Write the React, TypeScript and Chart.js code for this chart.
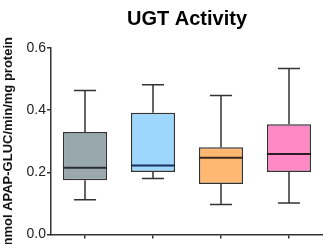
import React, { useEffect, useRef } from "react";
import { Chart, registerables } from "chart.js";

Chart.register(...registerables);

const categories = ["Group 1", "Group 2", "Group 3", "Group 4"];
const mins = [0.112, 0.18, 0.097, 0.102];
const q1s = [0.175, 0.201, 0.163, 0.201];
const medians = [0.215, 0.222, 0.247, 0.259];
const q3s = [0.33, 0.392, 0.281, 0.355];
const maxs = [0.463, 0.482, 0.447, 0.534];
const yTicks = [0, 0.2, 0.4, 0.6];

const fillColors = ["#98a8ad", "#9dd7fd", "#ffb872", "#ff89c4"];
const medianColors = ["#2a2f33", "#16305a", "#3a2a1a", "#2a1a22"];

const boxPlugin = {
  id: "boxWhiskers",
  beforeDatasetsDraw(chart: any) {
    const ctx = chart.ctx;
    const y = chart.scales.y;
    const meta = chart.getDatasetMeta(0);
    ctx.save();
    ctx.strokeStyle = "#333";
    ctx.lineWidth = 1.5;
    meta.data.forEach((el: any, i: number) => {
      const x = el.x;
      const cap = el.width * 0.5;
      ctx.beginPath();
      ctx.moveTo(x, y.getPixelForValue(q3s[i]));
      ctx.lineTo(x, y.getPixelForValue(maxs[i]));
      ctx.moveTo(x, y.getPixelForValue(q1s[i]));
      ctx.lineTo(x, y.getPixelForValue(mins[i]));
      ctx.moveTo(x - cap / 2, y.getPixelForValue(maxs[i]));
      ctx.lineTo(x + cap / 2, y.getPixelForValue(maxs[i]));
      ctx.moveTo(x - cap / 2, y.getPixelForValue(mins[i]));
      ctx.lineTo(x + cap / 2, y.getPixelForValue(mins[i]));
      ctx.stroke();
    });
    ctx.restore();
  },
  afterDatasetsDraw(chart: any) {
    const ctx = chart.ctx;
    const y = chart.scales.y;
    const meta = chart.getDatasetMeta(0);
    ctx.save();
    ctx.lineWidth = 2;
    meta.data.forEach((el: any, i: number) => {
      const half = el.width / 2;
      const py = y.getPixelForValue(medians[i]);
      ctx.strokeStyle = medianColors[i];
      ctx.beginPath();
      ctx.moveTo(el.x - half, py);
      ctx.lineTo(el.x + half, py);
      ctx.stroke();
    });
    ctx.restore();
  },
};

export default function App() {
  const ref = useRef<HTMLCanvasElement | null>(null);
  useEffect(() => {
    document.body.style.margin = "0";
    const chart = new Chart(ref.current as HTMLCanvasElement, {
      type: "bar",
      data: {
        labels: categories,
        datasets: [
          {
            data: q1s.map((q, i) => [q, q3s[i]]) as any,
            backgroundColor: fillColors,
            borderColor: "#333",
            borderWidth: 1.5,
            borderSkipped: false,
            categoryPercentage: 1,
            barPercentage: 0.65,
          },
        ],
      },
      plugins: [boxPlugin],
      options: {
        responsive: false,
        animation: false,
        devicePixelRatio: 1,
        layout: { padding: { left: 0, right: 0, top: 0, bottom: 5 } },
        plugins: {
          legend: { display: false },
          tooltip: { enabled: false },
          title: {
            display: true,
            text: "UGT Activity",
            fullSize: false,
            color: "#000",
            font: { family: "Liberation Sans, Arial, sans-serif", size: 20, weight: "bold" },
            padding: { top: 7, bottom: 17 },
          },
        },
        scales: {
          x: {
            type: "category",
            offset: true,
            ticks: { display: false },
            grid: {
              display: true,
              offset: false,
              drawOnChartArea: false,
              drawTicks: true,
              tickLength: 4,
              color: "#333",
              lineWidth: 1.5,
            },
            border: { display: true, color: "#333", width: 1.5 },
          },
          y: {
            min: 0,
            max: 0.6,
            afterFit: (scale: any) => {
              scale.width = 51;
            },
            afterBuildTicks: (scale: any) => {
              scale.ticks = yTicks.map((v) => ({ value: v }));
            },
            ticks: {
              padding: 1,
              color: "#222",
              font: { family: "Liberation Sans, Arial, sans-serif", size: 14 },
              callback: (v: any) => Number(v).toFixed(1),
            },
            grid: {
              display: true,
              drawOnChartArea: false,
              drawTicks: true,
              tickLength: 4,
              color: "#333",
              lineWidth: 1.5,
            },
            border: { display: true, color: "#333", width: 1.5 },
            title: {
              display: true,
              text: "nmol APAP-GLUC/min/mg protein",
              color: "#111",
              padding: { top: 1, bottom: 0 },
              font: { family: "Liberation Sans, Arial, sans-serif", size: 13, weight: "bold" },
            },
          },
        },
      },
    });
    return () => chart.destroy();
  }, []);
  return <canvas ref={ref} width={323} height={244} style={{ display: "block" }} />;
}
